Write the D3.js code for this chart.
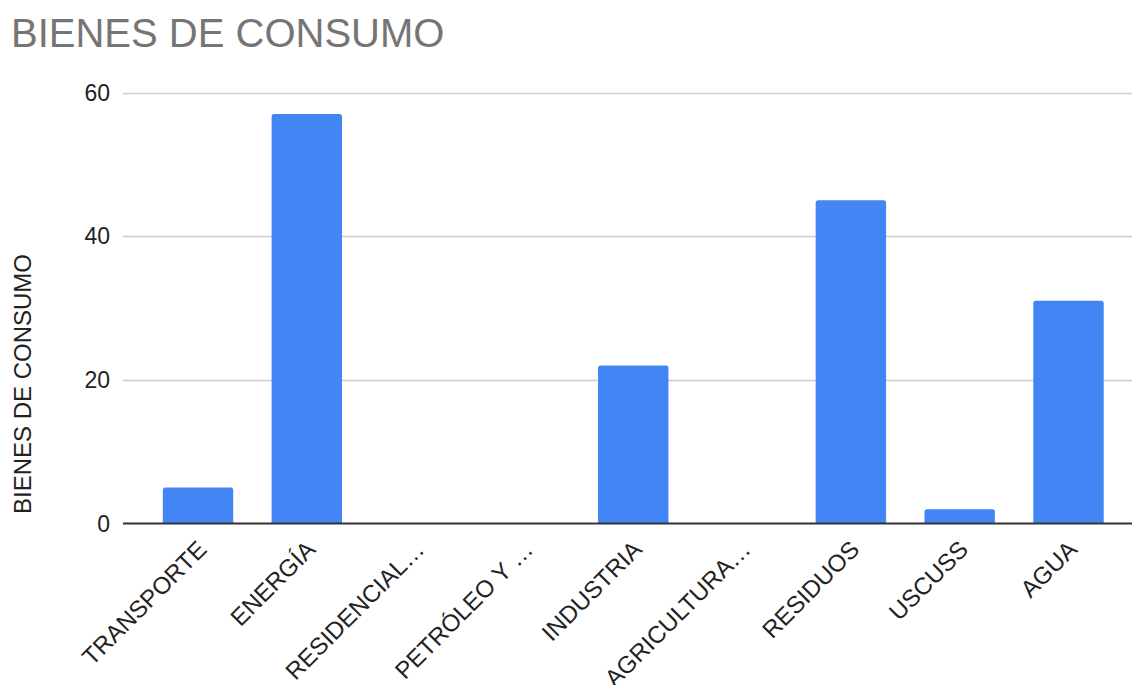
<!DOCTYPE html>
<html>
<head>
<meta charset="utf-8">
<script src="https://cdn.jsdelivr.net/npm/d3@7"></script>
<style>
  html, body { margin: 0; padding: 0; background: #fff; }
  svg { display: block; }
  text { font-family: Arial, "Liberation Sans", sans-serif; }
</style>
</head>
<body>
<div id="chart"></div>
<script>
const chartTitle = "BIENES DE CONSUMO";
const yAxisTitle = "BIENES DE CONSUMO";
const categories = ["TRANSPORTE", "ENERGÍA", "RESIDENCIAL…", "PETRÓLEO Y …", "INDUSTRIA", "AGRICULTURA…", "RESIDUOS", "USCUSS", "AGUA"];
const values = [5, 57, 0, 0, 22, 0, 45, 2, 31];
const yTicks = [0, 20, 40, 60];

const W = 1132, H = 685;
const svg = d3.select("#chart").append("svg").attr("width", W).attr("height", H);

const gridLeft = 123, gridRight = 1132;
const x = d3.scaleBand().domain(categories).range([143.6, 1122.9]).paddingInner(0.353).paddingOuter(0.1765);
const y = d3.scaleLinear().domain([0, 60]).range([523.5, 92.5]);

// title
svg.append("text").attr("x", 11).attr("y", 47)
  .attr("font-size", 40).attr("fill", "#757575").text(chartTitle);

// gridlines
svg.append("g").selectAll("line").data(yTicks.filter(d => d !== 0)).join("line")
  .attr("x1", gridLeft).attr("x2", gridRight)
  .attr("y1", d => Math.round(y(d)) + 0.5).attr("y2", d => Math.round(y(d)) + 0.5)
  .attr("stroke", "#cccccc").attr("stroke-width", 1.5);

// y tick labels
svg.append("g").selectAll("text").data(yTicks).join("text")
  .attr("x", 110).attr("y", d => y(d)).attr("dy", "0.36em")
  .attr("text-anchor", "end").attr("font-size", 23).attr("fill", "#222")
  .text(d => d);

// y axis title
svg.append("text").attr("transform", `translate(31, ${384}) rotate(-90)`)
  .attr("text-anchor", "middle").attr("font-size", 24).attr("fill", "#222")
  .text(yAxisTitle);

// bars
const r = 2.5;
function barPath(d, i) {
  const x0 = x(categories[i]), w = x.bandwidth();
  const y0 = y(0), y1 = y(d);
  const h = y0 - y1;
  if (h <= 0) return "";
  const rr = Math.min(r, h);
  return `M${x0},${y0} V${y1 + rr} Q${x0},${y1} ${x0 + rr},${y1} H${x0 + w - rr} Q${x0 + w},${y1} ${x0 + w},${y1 + rr} V${y0} Z`;
}
svg.append("g").selectAll("path").data(values).join("path")
  .attr("d", (d, i) => barPath(d, i))
  .attr("fill", "#4285f4");

// zero axis line
svg.append("line").attr("x1", gridLeft).attr("x2", gridRight)
  .attr("y1", y(0)).attr("y2", y(0))
  .attr("stroke", "#333333").attr("stroke-width", 2);

// x labels
svg.append("g").selectAll("text").data(categories).join("text")
  .attr("transform", d => `translate(${x(d) + x.bandwidth() / 2 + 10}, 551) rotate(-45)`)
  .attr("text-anchor", "end").attr("font-size", 24).attr("fill", "#222")
  .text(d => d);
</script>
</body>
</html>
